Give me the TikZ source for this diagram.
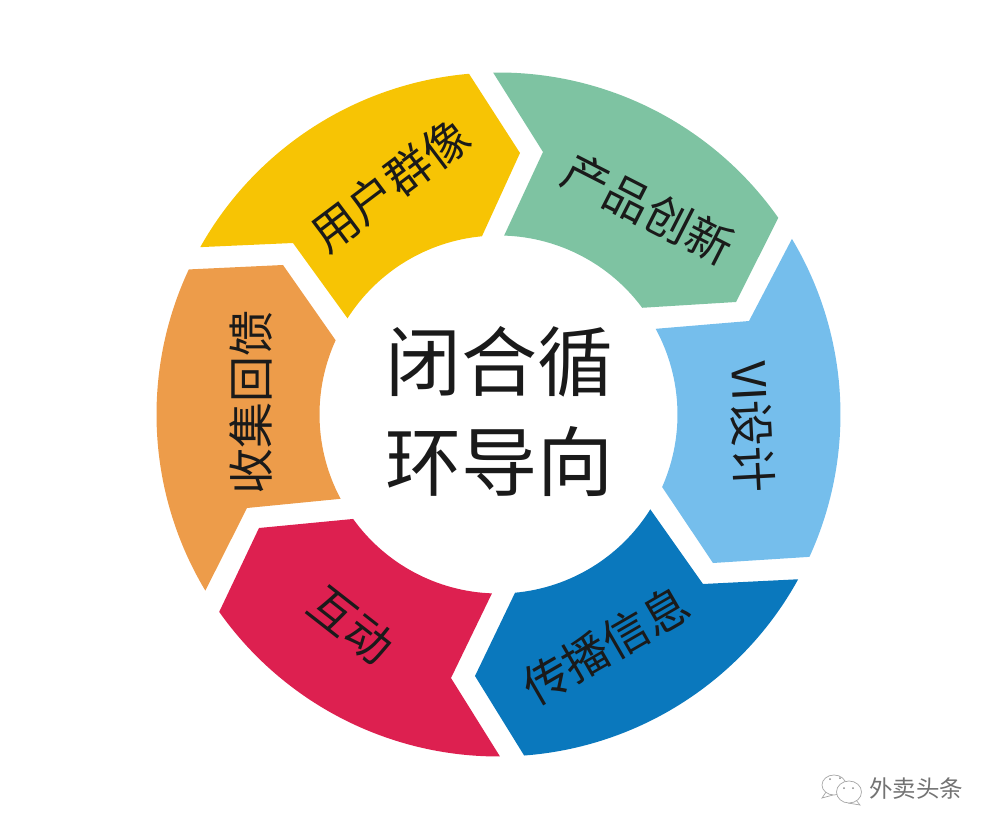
\documentclass[tikz,border=0pt]{standalone}
\usepackage{fontspec}
\setmainfont{Noto Sans CJK SC}
\definecolor{cgreen}{HTML}{7EC3A2}
\definecolor{cyellow}{HTML}{F7C404}
\definecolor{corange}{HTML}{ED9C4A}
\definecolor{cred}{HTML}{DD2050}
\definecolor{cdblue}{HTML}{0A78BD}
\definecolor{clblue}{HTML}{75BEEC}
\definecolor{ctext}{HTML}{1A1A1A}
\tikzset{
  seglabel/.style={text=ctext,inner sep=0pt,font=\fontsize{46}{46}\selectfont},
  hublabel/.style={text=ctext,inner sep=0pt,font=\fontsize{76}{76}\selectfont},
  marklabel/.style={text=black!55,inner sep=0pt,font=\fontsize{23.5}{23.5}\selectfont},
  bubble/.style={draw=black!35,line width=0.7pt,fill=white},
  eye/.style={fill=black!45},
}
% position in reference pixels -> centred coordinates
\newcommand{\px}[2]{({#1-498.5},{414.5-#2})}
\begin{document}
\begin{tikzpicture}[x=1pt,y=1pt]
\useasboundingbox (-498.5,-418.5) rectangle (497.5,414.5);
% green
\fill[cgreen] (90.9:342) arc[start angle=90.9,end angle=35.1,radius=342]
  -- (237.5,112.5) -- (36.6:179) arc[start angle=36.6,end angle=88.2,radius=179]
  -- (44.5,262.5) -- cycle;
% light blue
\fill[clblue] (30.9:342) arc[start angle=30.9,end angle=-24.6,radius=342]
  -- (214.5,-148.5) -- (-23.9:179) arc[start angle=-23.9,end angle=28.6,radius=179]
  -- (250.5,93.5) -- cycle;
% dark blue
\fill[cdblue] (-28.8:342) arc[start angle=-28.8,end angle=-85.7,radius=342]
  -- (-23.5,-261.5) -- (-84.7:179) arc[start angle=-84.7,end angle=-32,radius=179]
  -- (204.5,-169.5) -- cycle;
% red
\fill[cred] (-89.75:342) arc[start angle=-89.75,end angle=-144.75,radius=342]
  -- (-239.5,-113.5) -- (-144.3:179) arc[start angle=-144.3,end angle=-92.1,radius=179]
  -- (-47.5,-263.5) -- cycle;
% orange
\fill[corange] (211:342) arc[start angle=211,end angle=154.9,radius=342]
  -- (-215.5,149.5) -- (155.5:179) arc[start angle=155.5,end angle=208.1,radius=179]
  -- (-251.5,-93.5) -- cycle;
% yellow
\fill[cyellow] (150.7:342) arc[start angle=150.7,end angle=94.95,radius=342]
  -- (21.5,261.5) -- (95.3:179) arc[start angle=95.3,end angle=147.5,radius=179]
  -- (-205.5,171.5) -- cycle;
% labels
\node[seglabel,rotate=37] (yonghu) at \px{390}{185} {用户群像};
\node[seglabel,rotate=-27] (chanpin) at \px{648}{209} {产品创新};
\node[seglabel,rotate=-87] (vi) at \px{752}{427} {VI设计};
\node[seglabel,rotate=30] (chuanbo) at \px{606}{645} {传播信息};
\node[seglabel,rotate=-38] (hudong) at \px{351}{625} {互动};
\node[seglabel,rotate=90] (shouji) at \px{251}{402} {收集回馈};
\node[hublabel] (hub1) at \px{500}{362} {闭合循};
\node[hublabel] (hub2) at \px{500}{462} {环导向};
% watermark
\node[marklabel] (mark) at \px{916}{789} {外卖头条};
\draw[bubble] \px{826}{792} -- \px{822}{798} -- \px{833}{795};
\draw[bubble] \px{834}{785} ellipse[x radius=12,y radius=10];
\draw[bubble] \px{856}{800} -- \px{860}{805} -- \px{848}{803};
\draw[bubble] \px{849}{792} ellipse[x radius=12.5,y radius=11];
\fill[eye] \px{830}{779} circle[radius=1];
\fill[eye] \px{840}{778} circle[radius=1];
\fill[eye] \px{844}{788} circle[radius=1];
\fill[eye] \px{853}{788} circle[radius=1];
\end{tikzpicture}
\end{document}
